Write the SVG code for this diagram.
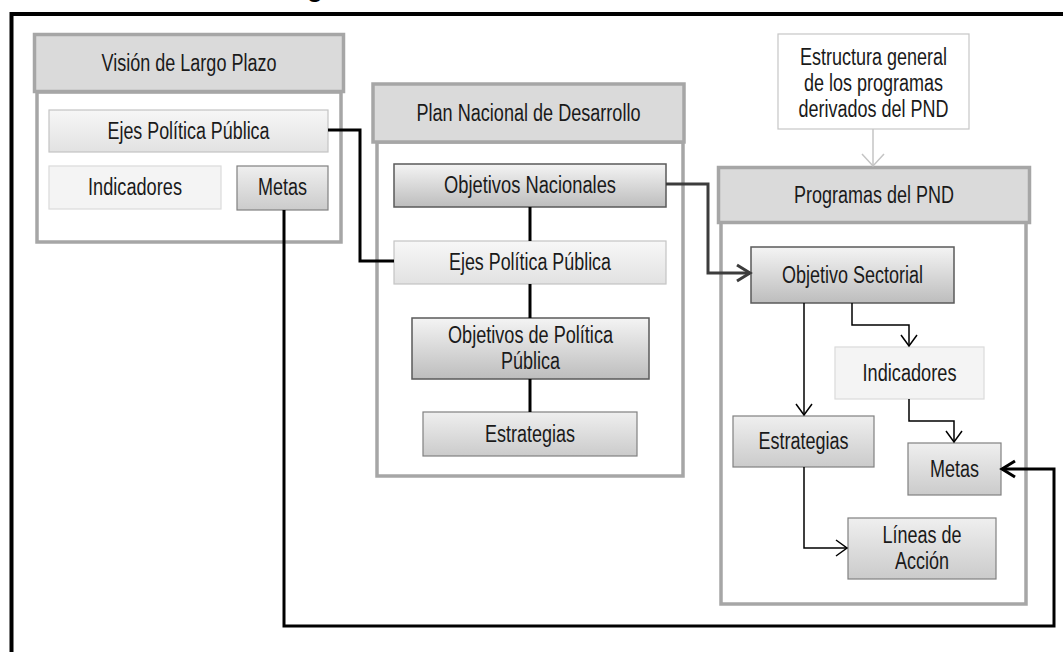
<svg xmlns="http://www.w3.org/2000/svg" width="1063" height="652" viewBox="0 0 1063 652">
  <style>
    text { font-family: "Liberation Sans Narrow", "Liberation Sans", Arial, sans-serif; font-size: 23px; fill: #1a1a1a; text-anchor: middle; }
    .hdr { fill: #dadada; stroke: #a6a6a6; stroke-width: 3.5; }
    .panel { fill: #ffffff; stroke: #a6a6a6; stroke-width: 3.5; }
    .dark { fill: url(#gDark); stroke: #5a5a5a; stroke-width: 1.5; }
    .mid { fill: url(#gMid); stroke: #808080; stroke-width: 1.2; }
    .light { fill: url(#gLight); stroke: #c4c4c4; stroke-width: 1.2; }
    .pale { fill: #f4f4f4; stroke: #dadada; stroke-width: 1.2; }
    .note { fill: #ffffff; stroke: #c6c6c6; stroke-width: 1.2; }
    .thick { fill: none; stroke: #000000; stroke-width: 3; }
    .thin { fill: none; stroke: #000000; stroke-width: 1.5; }
    .link { fill: none; stroke: #3c3c3c; stroke-width: 3; }
    .grey { fill: none; stroke: #c4c4c4; stroke-width: 1.5; }
  </style>
  <defs>
    <linearGradient id="gDark" x1="0" y1="0" x2="0" y2="1">
      <stop offset="0" stop-color="#f4f4f4"/>
      <stop offset="1" stop-color="#bdbdbd"/>
    </linearGradient>
    <linearGradient id="gMid" x1="0" y1="0" x2="0" y2="1">
      <stop offset="0" stop-color="#efefef"/>
      <stop offset="1" stop-color="#cbcbcb"/>
    </linearGradient>
    <linearGradient id="gLight" x1="0" y1="0" x2="0" y2="1">
      <stop offset="0" stop-color="#f7f7f7"/>
      <stop offset="1" stop-color="#e2e2e2"/>
    </linearGradient>
    <marker id="aThin" markerUnits="userSpaceOnUse" markerWidth="16" markerHeight="20" refX="13" refY="10" orient="auto">
      <path d="M2,2 L13,10 L2,18" fill="none" stroke="#000" stroke-width="1.5"/>
    </marker>
    <marker id="aThick" markerUnits="userSpaceOnUse" markerWidth="18" markerHeight="20" refX="15" refY="10" orient="auto">
      <path d="M2,2 L15,10 L2,18" fill="none" stroke="#000" stroke-width="3"/>
    </marker>
    <marker id="aLink" markerUnits="userSpaceOnUse" markerWidth="18" markerHeight="20" refX="15" refY="10" orient="auto">
      <path d="M2,2 L15,10 L2,18" fill="none" stroke="#3c3c3c" stroke-width="3"/>
    </marker>
    <marker id="aGrey" markerUnits="userSpaceOnUse" markerWidth="16" markerHeight="24" refX="13" refY="12" orient="auto">
      <path d="M1,1 L13,12 L1,23" fill="none" stroke="#c4c4c4" stroke-width="1.5"/>
    </marker>
  </defs>

  <rect width="1063" height="652" fill="#ffffff"/>

  <!-- heading above the frame, clipped by the top edge -->
  <text x="315" y="-3" style="font-family: 'Liberation Sans', sans-serif; font-weight: bold; font-size: 26px; fill: #000;">g</text>

  <!-- outer frame -->
  <rect x="11.5" y="14" width="1080" height="700" fill="none" stroke="#000" stroke-width="4"/>

  <!-- Visión de Largo Plazo -->
  <g id="vision">
    <rect class="panel" x="37" y="92" width="304" height="150"/>
    <rect class="hdr" x="34.5" y="34.5" width="309" height="57"/>
    <text x="189" y="71" textLength="175" lengthAdjust="spacingAndGlyphs">Visión de Largo Plazo</text>
  </g>
  <g id="vision-ejes">
    <rect class="light" x="49" y="110" width="279" height="42"/>
    <text x="188.5" y="139" textLength="162" lengthAdjust="spacingAndGlyphs">Ejes Política Pública</text>
  </g>
  <g id="vision-indicadores">
    <rect class="pale" x="49" y="166" width="172" height="43"/>
    <text x="135" y="195" textLength="94" lengthAdjust="spacingAndGlyphs">Indicadores</text>
  </g>
  <g id="vision-metas">
    <rect class="mid" x="237" y="166" width="91" height="44"/>
    <text x="282.5" y="195" textLength="49" lengthAdjust="spacingAndGlyphs">Metas</text>
  </g>

  <!-- Plan Nacional de Desarrollo -->
  <g id="pnd">
    <rect class="panel" x="377" y="142" width="306" height="334"/>
    <rect class="hdr" x="373" y="84" width="311" height="58"/>
    <text x="528.5" y="121" textLength="224" lengthAdjust="spacingAndGlyphs">Plan Nacional de Desarrollo</text>
  </g>
  <g id="pnd-objetivos">
    <rect class="dark" x="394" y="164" width="272" height="43"/>
    <text x="530" y="193" textLength="172" lengthAdjust="spacingAndGlyphs">Objetivos Nacionales</text>
  </g>
  <g id="pnd-ejes">
    <rect class="light" x="394" y="241" width="272" height="43"/>
    <text x="530" y="270" textLength="162" lengthAdjust="spacingAndGlyphs">Ejes Política Pública</text>
  </g>
  <g id="pnd-objetivos-pp">
    <rect class="dark" x="412" y="318" width="237" height="61"/>
    <text x="530.5" y="343" textLength="165" lengthAdjust="spacingAndGlyphs">Objetivos de Política</text>
    <text x="530.5" y="369" textLength="59" lengthAdjust="spacingAndGlyphs">Pública</text>
  </g>
  <g id="pnd-estrategias">
    <rect class="mid" x="423" y="412" width="214" height="44"/>
    <text x="530" y="442" textLength="90" lengthAdjust="spacingAndGlyphs">Estrategias</text>
  </g>

  <!-- Estructura general note -->
  <g id="nota">
    <rect class="note" x="778" y="34" width="191" height="95"/>
    <text x="873.5" y="65" textLength="147" lengthAdjust="spacingAndGlyphs">Estructura general</text>
    <text x="873.5" y="91" textLength="139" lengthAdjust="spacingAndGlyphs">de los programas</text>
    <text x="873.5" y="117" textLength="150" lengthAdjust="spacingAndGlyphs">derivados del PND</text>
  </g>

  <!-- Programas del PND -->
  <g id="programas">
    <rect class="panel" x="721" y="222" width="305" height="382"/>
    <rect class="hdr" x="718.5" y="167.5" width="311" height="55"/>
    <text x="874" y="203" textLength="160" lengthAdjust="spacingAndGlyphs">Programas del PND</text>
  </g>
  <g id="prog-objetivo">
    <rect class="dark" x="751" y="247" width="203" height="56"/>
    <text x="852.5" y="283" textLength="141" lengthAdjust="spacingAndGlyphs">Objetivo Sectorial</text>
  </g>
  <g id="prog-indicadores">
    <rect class="pale" x="835" y="347" width="149" height="52"/>
    <text x="909.5" y="381" textLength="94" lengthAdjust="spacingAndGlyphs">Indicadores</text>
  </g>
  <g id="prog-estrategias">
    <rect class="mid" x="733" y="416" width="141" height="51"/>
    <text x="803.5" y="449" textLength="90" lengthAdjust="spacingAndGlyphs">Estrategias</text>
  </g>
  <g id="prog-metas">
    <rect class="mid" x="908" y="443" width="93" height="52"/>
    <text x="954.5" y="477" textLength="49" lengthAdjust="spacingAndGlyphs">Metas</text>
  </g>
  <g id="prog-lineas">
    <rect class="mid" x="848" y="518" width="148" height="61"/>
    <text x="922" y="543" textLength="79" lengthAdjust="spacingAndGlyphs">Líneas de</text>
    <text x="922" y="569" textLength="54" lengthAdjust="spacingAndGlyphs">Acción</text>
  </g>

  <!-- connectors -->
  <g id="connectors">
    <path class="thick" d="M328,130 H360 V261 H394"/>
    <path class="thick" d="M530,207 V241"/>
    <path class="thick" d="M530,284 V318"/>
    <path class="thick" d="M530,379 V412"/>
    <path class="link" d="M666,184 H708 V273 H750" marker-end="url(#aLink)"/>
    <path class="grey" d="M873,129 V166" marker-end="url(#aGrey)"/>
    <path class="thin" d="M804,303 V415" marker-end="url(#aThin)"/>
    <path class="thin" d="M852,303 V325 H909 V346" marker-end="url(#aThin)"/>
    <path class="thin" d="M909,399 V421 H954 V442" marker-end="url(#aThin)"/>
    <path class="thin" d="M804,467 V548 H847" marker-end="url(#aThin)"/>
    <path class="thick" d="M284,210 V626 H1054 V469 H1002" marker-end="url(#aThick)"/>
  </g>
</svg>
